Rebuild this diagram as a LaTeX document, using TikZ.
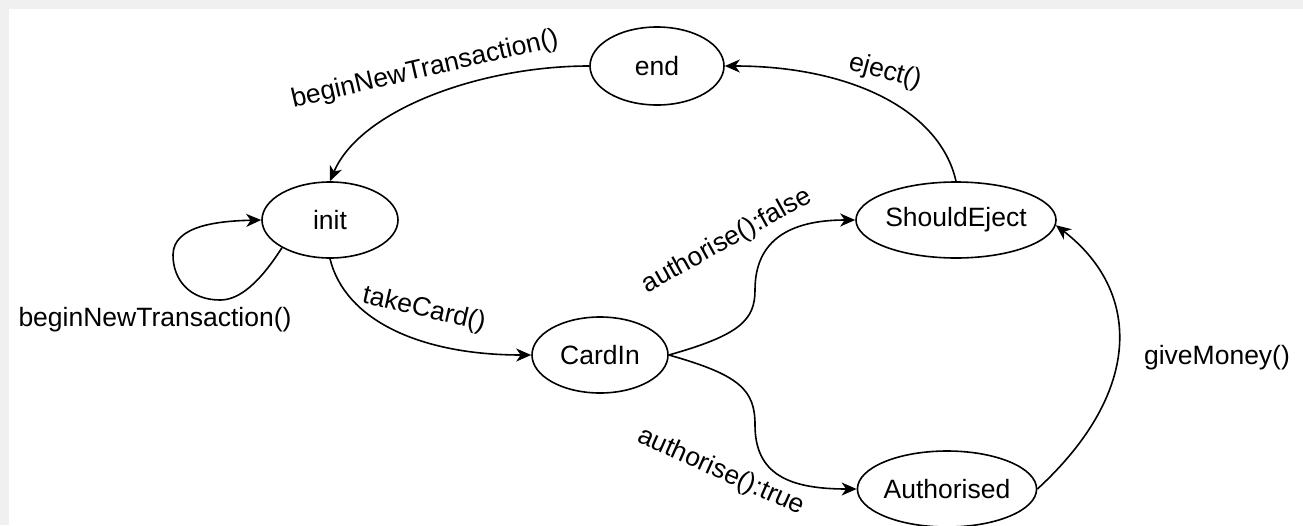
\documentclass[tikz,border=0pt]{standalone}
\usepackage{fontspec}
\setmainfont{Liberation Sans}
\usetikzlibrary{shapes.geometric,arrows.meta}
\begin{document}
\begin{tikzpicture}[x=1pt,y=-1pt,
  state/.style={ellipse,draw,line width=1.6pt,minimum width=#1,minimum height=76pt,inner sep=0pt,font=\fontsize{26.5}{30}\selectfont},
  state/.default=136pt,
  conn/.style={line width=1.6pt,-{Stealth[length=15pt,width=13pt,inset=4.5pt]}},
  lbl/.style={font=\fontsize{26.5}{30}\selectfont,inner sep=0pt}]
\useasboundingbox (0,0) rectangle (1303,525);
\fill[black!6] (0,0) rectangle (1303,525);
\fill[white] (9,9) rectangle (1303,525);
% states
\node[state=134pt,minimum height=78pt] (end) at (657,66) {end};
\node[state] (init) at (330,220) {init};
\node[state] (cardin) at (600,355) {CardIn};
\node[state=196pt] (eject) at (956,220) {ShouldEject};
\node[state=174pt] (auth) at (947,489) {Authorised};
% connectors
\draw[conn] (end.west) .. controls (480,66) and (360,110) .. (init.north);
\draw[conn] (init.210) .. controls (255,290) and (235,300) .. (220,300)
   .. controls (190,300) and (173,280) .. (173,255)
   .. controls (173,225) and (220,221) .. (init.west);
\draw[conn] (init.south) .. controls (345,320) and (420,355) .. (cardin.west);
\draw[conn] (cardin.east) .. controls (740,335) and (755,320) .. (755,290)
   .. controls (755,240) and (790,220) .. (eject.west);
\draw[conn] (cardin.east) .. controls (740,375) and (755,390) .. (755,425)
   .. controls (755,475) and (790,489) .. (auth.west);
\draw[conn] (eject.north) .. controls (940,110) and (850,66) .. (end.east);
\draw[conn] (auth.east) .. controls (1145,390) and (1140,290) .. (eject.-3);
% labels
\node[lbl,rotate=13] (l1) at (425,70) {beginNewTransaction()};
\node[lbl] (l2) at (155,320) {beginNewTransaction()};
\node[lbl,rotate=-13] (l3) at (424,310) {takeCard()};
\node[lbl,rotate=29] (l4) at (727,241) {authorise():false};
\node[lbl,rotate=-24] (l5) at (721,472) {authorise():true};
\node[lbl,rotate=-15] (l6) at (885,72) {eject()};
\node[lbl] (l7) at (1217,358) {giveMoney()};
\end{tikzpicture}
\end{document}
